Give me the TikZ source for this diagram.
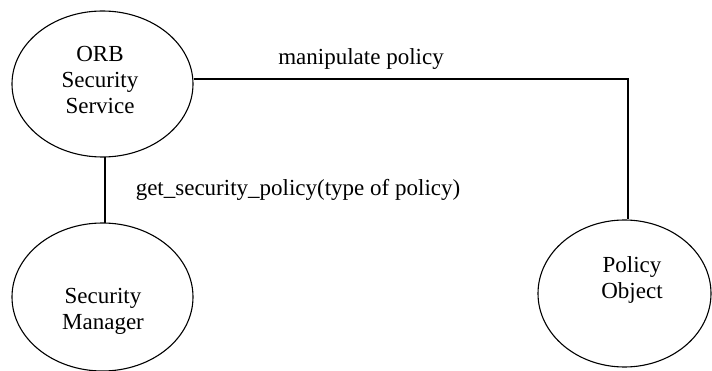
\documentclass[tikz,border=0pt]{standalone}
\usepackage{fontspec}
\setmainfont{Liberation Serif}
\usetikzlibrary{shapes.geometric}
\begin{document}
\begin{tikzpicture}[x=1pt,y=-1pt,
  ell/.style={draw,ellipse,line width=1.1pt,inner sep=0pt},
  txt/.style={align=center,font=\fontsize{23}{26}\selectfont,inner sep=0pt},
  conn/.style={line width=1.1pt}]
\useasboundingbox (0,0) rectangle (712,371);
\node[ell,minimum width=181pt,minimum height=146pt] (orb) at (102.5,84) {};
\node[ell,minimum width=181pt,minimum height=148pt] (mgr) at (102.5,297) {};
\node[ell,minimum width=173pt,minimum height=147pt] (pol) at (624.5,293.5) {};
\node[txt] (orbt) at (100,80) {ORB\\Security\\Service};
\node[txt] (mgrt) at (103,311) {Security\\Manager};
\node[txt] (polt) at (632,280) {Policy\\Object};
\coordinate (corner) at (628,79);
\draw[conn] (orb.east |- corner) -- (corner) -- (corner |- pol.north);
\coordinate (a) at (105,157);
\coordinate (b) at (105,223);
\draw[conn] (a) -- (b);
\node[txt,anchor=base] (mp) at (361,65) {manipulate policy};
\node[txt,anchor=base] (gsp) at (298,196) {get\_security\_policy(type of policy)};
\end{tikzpicture}
\end{document}
